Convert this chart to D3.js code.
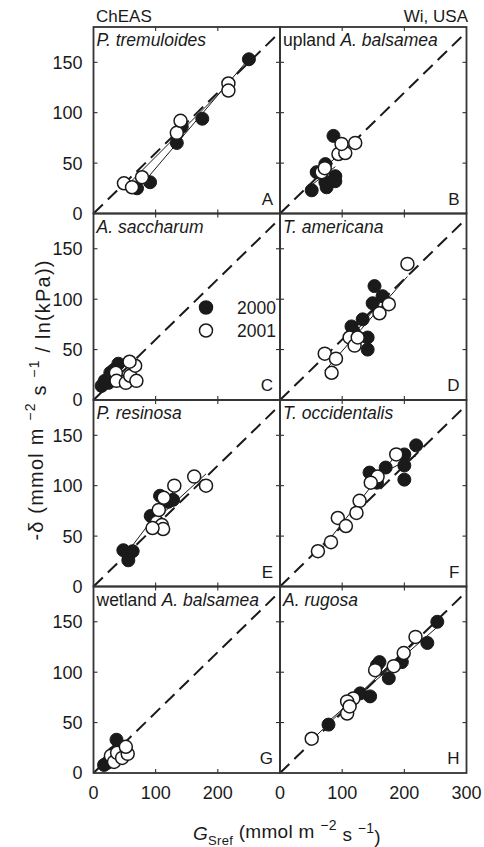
<!DOCTYPE html>
<html>
<head>
<meta charset="utf-8">
<script src="https://cdn.jsdelivr.net/npm/d3@7"></script>
<style>
  body { margin: 0; background: #fff; }
  svg text { font-family: "Liberation Sans", Arial, sans-serif; fill: #1a1a1a; }
</style>
</head>
<body>
<div id="chart"></div>
<script>
// panel names (italic parts flagged) and corner letters
const speciesNames = [
  [["P. tremuloides", true]],
  [["upland ", false], ["A. balsamea", true]],
  [["A. saccharum", true]],
  [["T. americana", true]],
  [["P. resinosa", true]],
  [["T. occidentalis", true]],
  [["wetland ", false], ["A. balsamea", true]],
  [["A. rugosa", true]]
]
const panelLetters = ["A", "B", "C", "D", "E", "F", "G", "H"]
const years = ["2000", "2001"]

// GSref, -delta
const a2000 = [[70,25],[91,31],[134,70],[142,86],[175,94],[250,153]]
const a2001 = [[49,30],[62,26],[78,36],[134,80],[140,92],[217,129],[217,122]]
const b2000 = [[51,23],[59,41],[73,49],[75,26],[73,31],[89,37],[89,32],[86,77]]
const b2001 = [[67,41],[72,45],[94,59],[105,60],[99,69],[121,70]]
const c2000 = [[13,14],[18,19],[24,17],[27,27],[40,36],[33,30]]
const c2001 = [[36,27],[37,19],[52,17],[59,24],[67,34],[69,19],[58,38]]
const d2000 = [[152,113],[165,103],[149,96],[133,80],[115,73],[141,62],[141,50],[118,68]]
const d2001 = [[205,135],[175,95],[160,86],[112,62],[120,54],[72,46],[90,41],[83,27],[125,62]]
const e2000 = [[48,36],[56,26],[63,35],[92,70],[107,90],[120,84],[128,86]]
const e2001 = [[102,64],[110,61],[112,57],[105,76],[113,88],[130,100],[162,109],[181,100],[95,58]]
const f2000 = [[219,140],[200,131],[200,120],[200,106],[144,113],[156,103],[170,118]]
const f2001 = [[187,131],[157,109],[128,85],[123,73],[93,68],[106,60],[82,44],[61,35],[146,103]]
const g2000 = [[17,8],[22,10],[27,13],[33,20],[37,33],[40,24]]
const g2001 = [[28,17],[33,11],[38,20],[46,15],[55,19],[52,26]]
const h2000 = [[253,150],[237,129],[196,110],[175,94],[156,107],[145,76],[129,79],[78,48],[160,110]]
const h2001 = [[218,135],[199,119],[183,106],[153,102],[118,74],[108,71],[108,59],[51,34],[112,66]]

const xTicks = [0, 100, 200, 300]
const yTicks = [0, 50, 100, 150]
const refLine = [[0, 0], [300, 180]]   // dashed -delta = 0.6 GSref

const filled = [a2000, b2000, c2000, d2000, e2000, f2000, g2000, h2000]
const open = [a2001, b2001, c2001, d2001, e2001, f2001, g2001, h2001]

const width = 484
const height = 847
const W = 186.5
const H = 186.5
const padLeft = 93.5
const padTop = 27
const R = 6.5
const ink = "#1a1a1a"

const svg = d3.select("#chart").append("svg")
    .attr("width", width)
    .attr("height", height)

const x = d3.scaleLinear().domain([0, 300]).range([0, W])
const y = d3.scaleLinear().domain([0, 185]).range([H, 0])

const line = d3.line().x(d => x(d[0])).y(d => y(d[1]))

// least squares fit drawn over the x range of that year
function fit(pts) {
  const mx = d3.mean(pts, d => d[0]), my = d3.mean(pts, d => d[1])
  const sxy = d3.sum(pts, d => (d[0] - mx) * (d[1] - my))
  const sxx = d3.sum(pts, d => (d[0] - mx) ** 2)
  const b = sxy / sxx, a = my - b * mx
  const [x0, x1] = d3.extent(pts, d => d[0])
  return [[x0, a + b * x0], [x1, a + b * x1]]
}

panelLetters.forEach((letter, i) => {
  const col = i % 2, row = Math.floor(i / 2)
  const g = svg.append("g")
      .attr("transform", `translate(${padLeft + col * W},${padTop + row * H})`)

  // inward ticks on all sides
  xTicks.slice(1, 3).forEach(t => {
    g.append("line").attr("x1", x(t)).attr("x2", x(t)).attr("y1", H).attr("y2", H - 4)
      .attr("stroke", ink).attr("stroke-width", 1)
    g.append("line").attr("x1", x(t)).attr("x2", x(t)).attr("y1", 0).attr("y2", 4)
      .attr("stroke", ink).attr("stroke-width", 1)
  })
  yTicks.slice(1).forEach(t => {
    g.append("line").attr("x1", 0).attr("x2", 4).attr("y1", y(t)).attr("y2", y(t))
      .attr("stroke", ink).attr("stroke-width", 1)
    g.append("line").attr("x1", W).attr("x2", W - 4).attr("y1", y(t)).attr("y2", y(t))
      .attr("stroke", ink).attr("stroke-width", 1)
  })

  g.append("path").datum(refLine).attr("d", line)
      .attr("fill", "none").attr("stroke", ink).attr("stroke-width", 2)
      .attr("stroke-dasharray", "13,7")

  ;[filled[i], open[i]].forEach(pts => {
    g.append("path").datum(fit(pts)).attr("d", line)
        .attr("fill", "none").attr("stroke", ink).attr("stroke-width", 1)
  })

  g.selectAll("circle.f").data(filled[i]).join("circle")
      .attr("class", "f")
      .attr("cx", d => x(d[0])).attr("cy", d => y(d[1])).attr("r", R)
      .attr("fill", ink).attr("stroke", ink).attr("stroke-width", 1)
  g.selectAll("circle.o").data(open[i]).join("circle")
      .attr("class", "o")
      .attr("cx", d => x(d[0])).attr("cy", d => y(d[1])).attr("r", R)
      .attr("fill", "#fff").attr("stroke", ink).attr("stroke-width", 1.5)

  const name = g.append("text").attr("x", 3).attr("y", 19).style("font-size", "17.5px")
  speciesNames[i].forEach(([t, it]) => {
    name.append("tspan").text(t).style("font-style", it ? "italic" : "normal")
  })

  g.append("text").attr("x", W - 7).attr("y", H - 9)
      .attr("text-anchor", "end").style("font-size", "17px").text(letter)

  g.append("rect").attr("width", W).attr("height", H)
      .attr("fill", "none").attr("stroke", "#333").attr("stroke-width", 1.8)

  // y tick labels only on left column
  if (col === 0) {
    yTicks.forEach(t => {
      g.append("text").attr("x", -11).attr("y", y(t)).attr("dy", "0.36em")
          .attr("text-anchor", "end").style("font-size", "18px").text(t)
    })
  }
  if (row === 3) {
    const labels = col === 0 ? xTicks.slice(0, 3) : xTicks
    labels.forEach(t => {
      g.append("text").attr("x", x(t)).attr("y", H + 26)
          .attr("text-anchor", "middle").style("font-size", "18px").text(t)
    })
  }

  // legend sits in panel C
  if (letter === "C") {
    years.forEach((yr, k) => {
      const ly = 94 + k * 23
      g.append("circle").attr("cx", 112.5).attr("cy", ly).attr("r", R)
          .attr("fill", k === 0 ? ink : "#fff").attr("stroke", ink).attr("stroke-width", 1.5)
      g.append("text").attr("x", 143.5).attr("y", ly + 6)
          .style("font-size", "17.5px").text(yr)
    })
  }
})

svg.append("text").attr("x", 96).attr("y", 22).style("font-size", "17px").text("ChEAS")
svg.append("text").attr("x", 468).attr("y", 22).attr("text-anchor", "end")
    .style("font-size", "17px").text("Wi, USA")

// axis titles
const yt = svg.append("text")
    .attr("transform", `translate(43,${padTop + 2 * H}) rotate(-90)`)
    .attr("text-anchor", "middle").style("font-size", "20px")
    .style("letter-spacing", "1.2px")
yt.append("tspan").text("-δ (mmol m ")
yt.append("tspan").text("−2").attr("dy", "-0.55em").style("font-size", "14px")
yt.append("tspan").text(" s ").attr("dy", "0.55em")
yt.append("tspan").text("−1").attr("dy", "-0.55em").style("font-size", "14px")
yt.append("tspan").text(" / ln(kPa))").attr("dy", "0.55em")

const xt = svg.append("text")
    .attr("x", 287).attr("y", 840)
    .attr("text-anchor", "middle").style("font-size", "19px")
    .style("letter-spacing", "0.3px")
xt.append("tspan").text("G").style("font-style", "italic")
xt.append("tspan").text("Sref").attr("dy", "0.35em").style("font-size", "13px")
xt.append("tspan").text(" (mmol m ").attr("dy", "-0.35em")
xt.append("tspan").text("−2").attr("dy", "-0.55em").style("font-size", "14px")
xt.append("tspan").text(" s ").attr("dy", "0.55em")
xt.append("tspan").text("−1").attr("dy", "-0.55em").style("font-size", "14px")
xt.append("tspan").text(")").attr("dy", "0.55em")
</script>
</body>
</html>
